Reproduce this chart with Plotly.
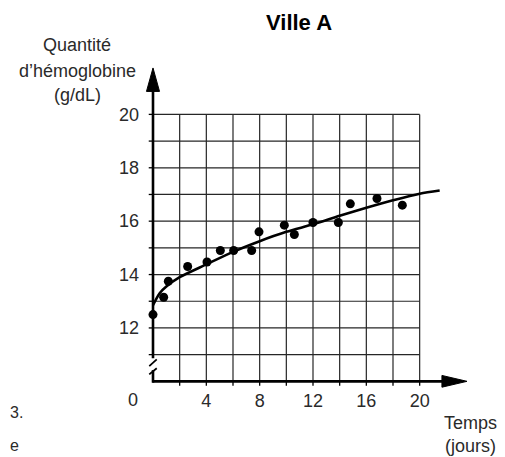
import plotly.graph_objects as go

# ---- data ----
days = [0, 0.8, 1.15, 2.6, 4.05, 5.05, 6.05, 7.4, 7.95, 9.85, 10.6, 12.0, 13.9, 14.8, 16.8, 18.7]
hemo = [12.5, 13.15, 13.75, 14.3, 14.47, 14.9, 14.9, 14.9, 15.6, 15.85, 15.5, 15.95, 15.95, 16.65, 16.85, 16.6]

trend_x = [0, 0.5, 1, 2, 4, 6, 8, 10, 12, 14, 16, 18, 20, 21.5]
trend_y = [12.85, 13.3, 13.55, 13.9, 14.38, 14.85, 15.25, 15.6, 15.88, 16.2, 16.5, 16.78, 17.03, 17.15]

x_tick_vals = [4, 8, 12, 16, 20]
x_tick_text = ["4", "8", "12", "16", "20"]
y_tick_vals = [12, 14, 16, 18, 20]
y_tick_text = ["12", "14", "16", "18", "20"]

title_text = "Ville A"
y_title_lines = ["Quantité", "d’hémoglobine", "(g/dL)"]
x_title_lines = ["Temps", "(jours)"]

FONT = "Liberation Sans, Arial, sans-serif"
TXT = "#2a2a2a"
GRID = "#262626"

# the page adds an 8px body margin, so the figure is 8px smaller than the window
PAGE_OFF = 8
W, H = 505 - PAGE_OFF, 457 - PAGE_OFF
ML, MR, MT, MB = 137, 32, 53, 69
PW, PH = W - ML - MR, H - MT - MB

fig = go.Figure()

fig.add_trace(go.Scatter(x=trend_x, y=trend_y, mode="lines",
                         line=dict(color="black", width=2.6, shape="spline", smoothing=0.8),
                         hoverinfo="skip", cliponaxis=False))
fig.add_trace(go.Scatter(x=days, y=hemo, mode="markers",
                         marker=dict(color="black", size=9), cliponaxis=False))

shapes = []
# grid
for gx in range(2, 21, 2):
    shapes.append(dict(type="line", xref="x", yref="y", x0=gx, x1=gx, y0=10, y1=20,
                       line=dict(color=GRID, width=1.2), layer="below"))
for gy in range(11, 21):
    shapes.append(dict(type="line", xref="x", yref="y", x0=0, x1=20, y0=gy, y1=gy,
                       line=dict(color=GRID, width=1.2), layer="below"))
# small ticks
for gy in range(11, 21):
    shapes.append(dict(type="line", xref="x", yref="y", x0=-0.32, x1=0, y0=gy, y1=gy,
                       line=dict(color="black", width=1.3)))
for gx in range(2, 21, 2):
    shapes.append(dict(type="line", xref="x", yref="y", x0=gx, x1=gx, y0=10, y1=9.83,
                       line=dict(color="black", width=1.3)))
AX = dict(color="black", width=2.6)
# y axis (with break)
shapes.append(dict(type="line", xref="x", yref="y", x0=0, x1=0, y0=10.86, y1=20.95, line=AX))
shapes.append(dict(type="line", xref="x", yref="y", x0=0, x1=0, y0=9.95, y1=10.42, line=AX))
shapes.append(dict(type="line", xref="x", yref="y", x0=-0.28, x1=0.28, y0=10.57, y1=10.82,
                   line=dict(color="black", width=1.8)))
shapes.append(dict(type="line", xref="x", yref="y", x0=-0.28, x1=0.28, y0=10.26, y1=10.49,
                   line=dict(color="black", width=1.8)))
# x axis
shapes.append(dict(type="line", xref="x", yref="y", x0=-0.05, x1=21.8, y0=10, y1=10, line=AX))
# arrowheads
shapes.append(dict(type="path", xref="x", yref="y",
                   path="M -0.49,20.86 L 0,21.74 L 0.49,20.86 Z",
                   fillcolor="black", line=dict(color="black", width=1)))
shapes.append(dict(type="path", xref="x", yref="y",
                   path="M 21.67,9.78 L 23.55,10 L 21.67,10.22 Z",
                   fillcolor="black", line=dict(color="black", width=1)))

# helpers: window pixel -> paper fraction
def px_x(p):
    return (p - PAGE_OFF - ML) / PW

def px_y(p):
    return (MT + PH - (p - PAGE_OFF)) / PH

annotations = []
annotations.append(dict(text=title_text, xref="paper", yref="paper",
                        x=px_x(299), y=px_y(22),
                        xanchor="center", yanchor="middle", showarrow=False,
                        font=dict(family=FONT, size=22, color="black", weight="bold")))
for line, cy in zip(y_title_lines, [45, 71, 95]):
    annotations.append(dict(text=line, xref="paper", yref="paper",
                            x=px_x(77), y=px_y(cy),
                            xanchor="center", yanchor="middle", showarrow=False,
                            font=dict(family=FONT, size=18, color=TXT)))
for line, cy in zip(x_title_lines, [423, 446]):
    annotations.append(dict(text=line, xref="paper", yref="paper",
                            x=px_x(470), y=px_y(cy),
                            xanchor="center", yanchor="middle", showarrow=False,
                            font=dict(family=FONT, size=18, color=TXT)))
# the "0" at the origin corner
annotations.append(dict(text="0", xref="x", yref="y", x=0, y=10, xshift=-20, yshift=-19,
                        xanchor="center", yanchor="middle", showarrow=False,
                        font=dict(family=FONT, size=18, color=TXT)))
# text fragments at the left edge
annotations.append(dict(text="3.", xref="paper", yref="paper", x=px_x(8), y=px_y(412),
                        xanchor="left", yanchor="middle", showarrow=False,
                        font=dict(family=FONT, size=16, color=TXT)))
annotations.append(dict(text="e", xref="paper", yref="paper", x=px_x(8), y=px_y(445),
                        xanchor="left", yanchor="middle", showarrow=False,
                        font=dict(family=FONT, size=16, color=TXT)))

fig.update_layout(
    width=W, height=H,
    margin=dict(l=ML, r=MR, t=MT, b=MB),
    paper_bgcolor="white", plot_bgcolor="white",
    showlegend=False,
    shapes=shapes, annotations=annotations,
    xaxis=dict(range=[-0.6, 24], showgrid=False, zeroline=False, showline=False,
               tickvals=x_tick_vals, ticktext=x_tick_text, ticks="",
               tickfont=dict(family=FONT, size=18, color=TXT), ticklabelstandoff=0,
               fixedrange=True),
    yaxis=dict(range=[9.75, 22], showgrid=False, zeroline=False, showline=False,
               tickvals=y_tick_vals, ticktext=y_tick_text, ticks="",
               tickfont=dict(family=FONT, size=18, color=TXT), ticklabelstandoff=5,
               fixedrange=True),
)

fig.write_html("out.html")
